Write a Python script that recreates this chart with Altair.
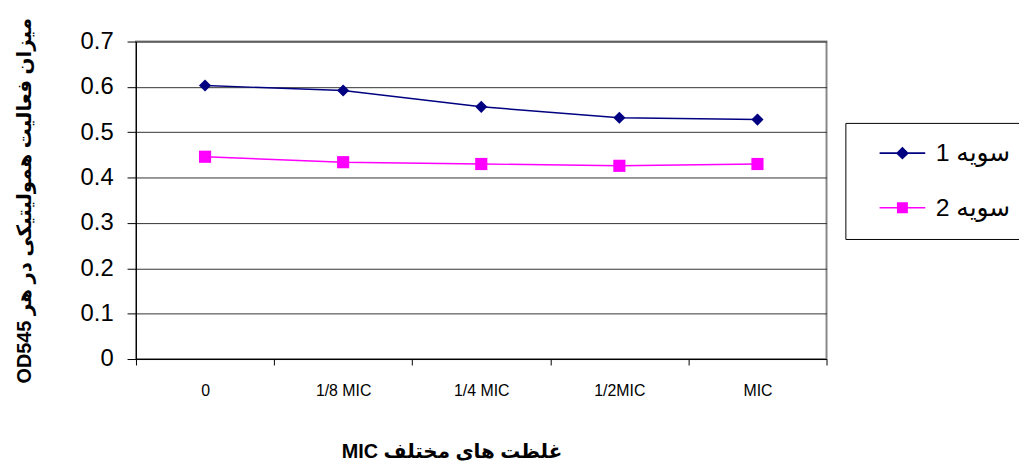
import altair as alt
import pandas as pd

categories = ["0", "1/8 MIC", "1/4 MIC", "1/2MIC", "MIC"]
series_names = ["سویه 1", "سویه 2"]
series1 = [0.603, 0.592, 0.556, 0.532, 0.528]
series2 = [0.446, 0.434, 0.430, 0.426, 0.430]
y_ticks = [0, 0.1, 0.2, 0.3, 0.4, 0.5, 0.6, 0.7]
colors = ["#000080", "#FF00FF"]
marker_shapes = ["diamond", "square"]

rows = []
for c, v in zip(categories, series1):
    rows.append({"conc": c, "series": series_names[0], "value": v})
for c, v in zip(categories, series2):
    rows.append({"conc": c, "series": series_names[1], "value": v})
df = pd.DataFrame(rows)

FONT = "Liberation Sans, Arial, DejaVu Sans, sans-serif"

x_enc = alt.X(
    "conc:N",
    sort=categories,
    scale=alt.Scale(paddingInner=0, paddingOuter=0),
    axis=alt.Axis(
        title="MIC غلظت های مختلف",
        tickBand="extent",
        labelAngle=0,
        labelFontSize=16,
        labelPadding=18,
        tickSize=6,
        grid=False,
        titleFontSize=20,
        titleFontWeight="bold",
        titleX=318,
        titleY=93,
        titleBaseline="middle",
        titleAlign="center",
    ),
)
y_enc = alt.Y(
    "value:Q",
    scale=alt.Scale(domain=[0, 0.7], nice=False),
    axis=alt.Axis(
        title="OD545 میزان فعالیت همولیتیکی در هر",
        values=y_ticks,
        format="~g",
        labelFontSize=24,
        labelPadding=14,
        tickSize=9,
        grid=True,
        gridColor="#333333",
        gridWidth=1,
        titleFontSize=20,
        titleFontWeight="bold",
        titleX=-112,
        titleY=160,
        titleAngle=-90,
        titleBaseline="middle",
        titleAlign="center",
    ),
)

color_scale = alt.Scale(domain=series_names, range=colors)

base = alt.Chart(df)

lines = base.mark_line(strokeWidth=1.5).encode(
    x=x_enc,
    y=y_enc,
    color=alt.Color("series:N", scale=color_scale, legend=None),
)

point_layers = []
for name, shp in zip(series_names, marker_shapes):
    point_layers.append(
        base.mark_point(filled=True, opacity=1, size=150, shape=shp)
        .encode(
            x=x_enc,
            y=y_enc,
            color=alt.Color("series:N", scale=color_scale, legend=None),
        )
        .transform_filter(alt.datum.series == name)
    )

# legend glyphs: a thin bar (the line) plus the marker, in unit coordinates
diamond_path = "M-2.3,-0.08H2.3V0.08H-2.3ZM0,-0.65L0.65,0L0,0.65L-0.65,0Z"
square_path = "M-2.3,-0.08H2.3V0.08H-2.3ZM-0.55,-0.55H0.55V0.55H-0.55Z"

legend_props = dict(
    title=None,
    orient="none",
    legendX=715,
    legendY=82,
    padding=18,
    symbolSize=400,
    symbolOffset=27,
    symbolStrokeWidth=0,
    symbolOpacity=1,
    labelOffset=21,
    labelFontSize=25,
    labelFont=FONT,
    rowPadding=29,
    strokeColor="black",
    fillColor="white",
)

legend_layer = base.mark_point(filled=True, opacity=0).encode(
    x=x_enc,
    y=y_enc,
    color=alt.Color("series:N", scale=alt.Scale(domain=series_names, range=colors), legend=alt.Legend(**legend_props)),
    shape=alt.Shape("series:N", scale=alt.Scale(domain=series_names, range=[diamond_path, square_path]), legend=alt.Legend(**legend_props)),
)

chart = (
    alt.layer(lines, *point_layers, legend_layer)
    .resolve_scale(color="independent", shape="independent")
    .properties(
        width=696,
        height=320,
        autosize=alt.AutoSizeParams(type="none"),
        padding={"left": 129, "top": 32, "right": 194, "bottom": 105},
    )
    .configure(font=FONT)
    .configure_view(stroke="#888888", strokeWidth=2)
    .configure_axis(
        domainColor="black",
        tickColor="black",
        labelColor="black",
        titleColor="black",
        labelFont=FONT,
        titleFont=FONT,
        domainWidth=1,
    )
)

chart.save("out.html", embed_options={"renderer": "svg", "actions": False})
